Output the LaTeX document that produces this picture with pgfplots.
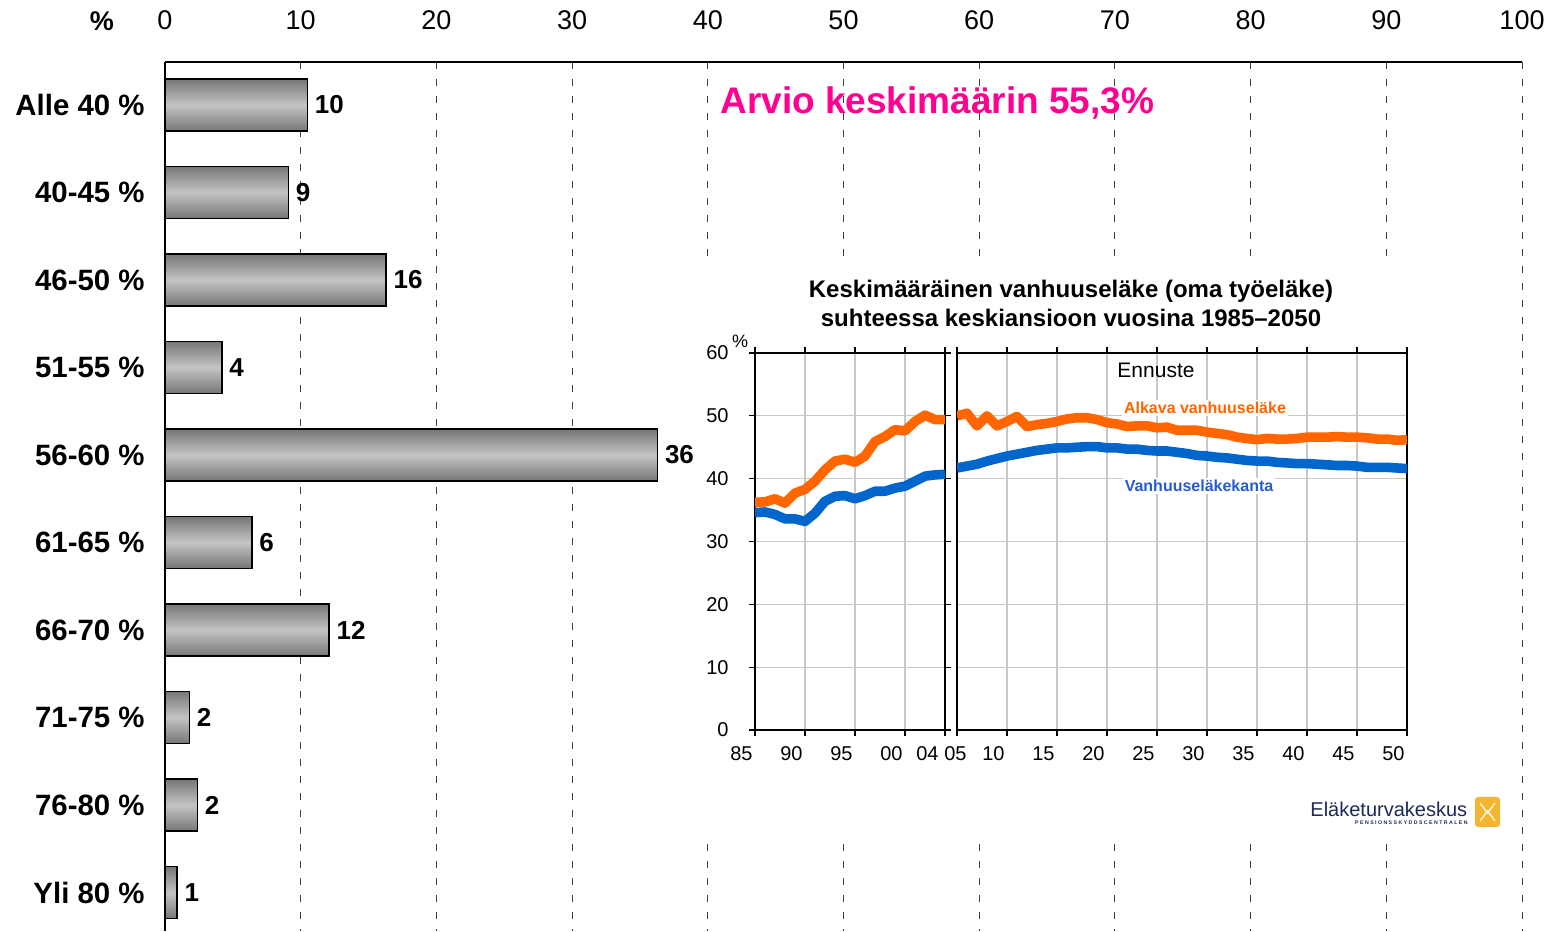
\documentclass[border=0pt]{standalone}
\usepackage{pgfplots}
\pgfplotsset{compat=1.18}
\usepackage{fontspec}
\setmainfont{Liberation Sans}
\definecolor{orng}{RGB}{255,102,0}
\definecolor{blu}{RGB}{0,102,204}
\definecolor{blutxt}{RGB}{40,90,210}
\definecolor{mag}{RGB}{255,0,144}
\definecolor{barA}{RGB}{118,118,118}
\definecolor{barB}{RGB}{196,196,196}
\definecolor{gridg}{RGB}{200,200,200}
\definecolor{navy}{RGB}{30,40,90}
\definecolor{logoy}{RGB}{242,182,48}
\pgfplotsset{
  mybar/.style={xbar, bar width=26pt, draw=black, line width=0.75pt,
    top color=barA, bottom color=barA, middle color=barB,
    nodes near coords, point meta=explicit symbolic,
    every node near coord/.append style={anchor=west, font=\bfseries\fontsize{13pt}{15pt}\selectfont, text=black}}
}
\begin{document}
\begin{tikzpicture}
\useasboundingbox (0,0) rectangle (775.5pt,465.5pt);
\begin{axis}[
  at={(82.5pt,0pt)}, anchor=south west,
  width=678.5pt, height=434.5pt, scale only axis,
  xmin=0, xmax=100, ymin=-0.491, ymax=9.44, y dir=reverse,
  axis x line*=top, axis y line*=left,
  xtick={0,10,...,100},
  xticklabel style={anchor=center, yshift=21pt, font=\fontsize{13.5pt}{16pt}\selectfont},
  ytick={0,...,9},
  yticklabels={Alle 40 \%, 40-45 \%, 46-50 \%, 51-55 \%, 56-60 \%, 61-65 \%, 66-70 \%, 71-75 \%, 76-80 \%, Yli 80 \%},
  yticklabel style={anchor=east, inner sep=0pt, xshift=-10pt, font=\bfseries\fontsize{14.7pt}{17pt}\selectfont},
  major tick length=0pt,
  xmajorgrids, major grid style={black!75, line width=0.5pt, dash pattern=on 3.5pt off 5pt},
  axis line style={black, line width=0.9pt},
  /pgf/number format/assume math mode=true,
  clip=false,
]
\addplot[mybar] coordinates {(10.5,0)[10]};
\addplot[mybar] coordinates {(9.1,1)[9]};
\addplot[mybar] coordinates {(16.3,2)[16]};
\addplot[mybar] coordinates {(4.2,3)[4]};
\addplot[mybar] coordinates {(36.3,4)[36]};
\addplot[mybar] coordinates {(6.4,5)[6]};
\addplot[mybar] coordinates {(12.1,6)[12]};
\addplot[mybar] coordinates {(1.8,7)[2]};
\addplot[mybar] coordinates {(2.4,8)[2]};
\addplot[mybar] coordinates {(0.9,9)[1]};
\end{axis}
\node[font=\bfseries\fontsize{13.5pt}{16pt}\selectfont] at (51pt,455pt) {\%};
\fill[white] (350pt,45.5pt) rectangle (756pt,333pt);
\node[anchor=west, text=mag, font=\bfseries\fontsize{18.5pt}{22pt}\selectfont, inner sep=0pt] at (360pt,414pt) {Arvio keskimäärin 55,3\%};
% left inset panel
\begin{axis}[
  at={(377.5pt,100.5pt)}, anchor=south west,
  width=95pt, height=188.5pt, scale only axis,
  xmin=1985, xmax=2004, ymin=0, ymax=60,
  xtick={1985,1990,1995,2000,2004}, xticklabels={85,90,95,00,04\hspace*{2pt}},
  ytick={0,10,...,60},
  grid=major, major grid style={gridg, line width=0.6pt},
  tick align=outside, major tick length=3pt, tick style={black, line width=0.6pt},
  axis line style={black, line width=0.75pt},
  xticklabel style={anchor=north east, inner sep=0pt, xshift=-1pt, yshift=-5pt, font=\fontsize{10pt}{12pt}\selectfont},
  yticklabel style={anchor=east, inner sep=0pt, xshift=-10pt, font=\fontsize{10pt}{12pt}\selectfont},
  /pgf/number format/assume math mode=true,
]
\addplot[orng, line width=4.8pt, line join=round] coordinates {
(1985,36.25) (1986,36.3) (1987,36.8) (1988,36.1) (1989,37.7) (1990,38.3) (1991,39.6) (1992,41.4) (1993,42.8) (1994,43.1)
(1995,42.6) (1996,43.6) (1997,45.9) (1998,46.7) (1999,47.8) (2000,47.6) (2001,49.1) (2002,50.1) (2003,49.4) (2004,49.4)};
\addplot[blu, line width=4.8pt, line join=round] coordinates {
(1985,34.6) (1986,34.7) (1987,34.3) (1988,33.6) (1989,33.6) (1990,33.2) (1991,34.5) (1992,36.4) (1993,37.2) (1994,37.3)
(1995,36.8) (1996,37.3) (1997,38.0) (1998,38.0) (1999,38.5) (2000,38.8) (2001,39.6) (2002,40.4) (2003,40.6) (2004,40.7)};
\end{axis}
% right inset panel
\begin{axis}[
  at={(478.5pt,100.5pt)}, anchor=south west,
  width=225pt, height=188.5pt, scale only axis,
  xmin=2005, xmax=2050, ymin=0, ymax=60,
  xtick={2005,2010,...,2050}, xticklabels={05\hspace*{-6pt},10,15,20,25,30,35,40,45,50},
  ytick={0,10,...,60}, yticklabels={},
  grid=major, major grid style={gridg, line width=0.6pt},
  tick align=outside, major tick length=3pt, xtick style={black, line width=0.6pt}, ytick style={draw=none},
  axis line style={black, line width=0.75pt},
  xticklabel style={anchor=north east, inner sep=0pt, xshift=-1pt, yshift=-5pt, font=\fontsize{10pt}{12pt}\selectfont},
  /pgf/number format/assume math mode=true,
]
\addplot[orng, line width=4.8pt, line join=round] coordinates {
(2005,50.0) (2006,50.4) (2007,48.4) (2008,50.0) (2009,48.4) (2010,49.1) (2011,49.9) (2012,48.3) (2013,48.6) (2014,48.8)
(2015,49.1) (2016,49.5) (2017,49.7) (2018,49.7) (2019,49.4) (2020,48.9) (2021,48.7) (2022,48.3) (2023,48.4) (2024,48.4)
(2025,48.1) (2026,48.2) (2027,47.7) (2028,47.7) (2029,47.7) (2030,47.4) (2031,47.2) (2032,47.0) (2033,46.6) (2034,46.4)
(2035,46.2) (2036,46.4) (2037,46.3) (2038,46.3) (2039,46.4) (2040,46.6) (2041,46.6) (2042,46.6) (2043,46.7) (2044,46.6)
(2045,46.6) (2046,46.5) (2047,46.3) (2048,46.3) (2049,46.1) (2050,46.2)};
\addplot[blu, line width=4.8pt, line join=round] coordinates {
(2005,41.7) (2006,42.0) (2007,42.3) (2008,42.8) (2009,43.2) (2010,43.6) (2011,43.9) (2012,44.2) (2013,44.5) (2014,44.7)
(2015,44.9) (2016,44.9) (2017,45.0) (2018,45.1) (2019,45.1) (2020,44.9) (2021,44.9) (2022,44.7) (2023,44.7) (2024,44.5)
(2025,44.4) (2026,44.4) (2027,44.2) (2028,44.0) (2029,43.7) (2030,43.6) (2031,43.4) (2032,43.3) (2033,43.1) (2034,42.9)
(2035,42.8) (2036,42.8) (2037,42.6) (2038,42.5) (2039,42.4) (2040,42.4) (2041,42.3) (2042,42.2) (2043,42.1) (2044,42.1)
(2045,42.0) (2046,41.8) (2047,41.8) (2048,41.8) (2049,41.7) (2050,41.6)};
\end{axis}
\node[align=center, font=\bfseries\fontsize{12pt}{14.5pt}\selectfont] at (535.5pt,314pt) {Keskimääräinen vanhuuseläke (oma työeläke)\\suhteessa keskiansioon vuosina 1985–2050};
\node[font=\fontsize{9pt}{11pt}\selectfont] at (370pt,295pt) {\%};
\node[font=\fontsize{10.5pt}{12pt}\selectfont] at (578pt,280.5pt) {Ennuste};
\node[fill=white, inner sep=1pt, text=orng, font=\bfseries\fontsize{8pt}{10pt}\selectfont] at (602.5pt,261.5pt) {Alkava vanhuuseläke};
\node[fill=white, inner sep=1pt, text=blutxt, font=\bfseries\fontsize{8pt}{10pt}\selectfont] at (599.5pt,222.5pt) {Vanhuuseläkekanta};
% logo
\node[anchor=west, inner sep=0pt, text=navy, font=\fontsize{10pt}{12pt}\selectfont] at (655pt,61pt) {Eläketurvakeskus};
\node[anchor=east, inner sep=0pt, text=navy, font=\bfseries\fontsize{2.6pt}{3pt}\selectfont] at (734pt,54pt) {P E N S I O N S S K Y D D S C E N T R A L E N};
\fill[logoy, rounded corners=1.5pt] (737.5pt,52pt) rectangle (750pt,67pt);
\draw[white, line width=0.6pt] (740pt,55pt) -- (743.75pt,60pt) -- (747.5pt,55pt) (740pt,64pt) -- (743.75pt,59pt) -- (747.5pt,64pt);
\end{tikzpicture}
\end{document}
